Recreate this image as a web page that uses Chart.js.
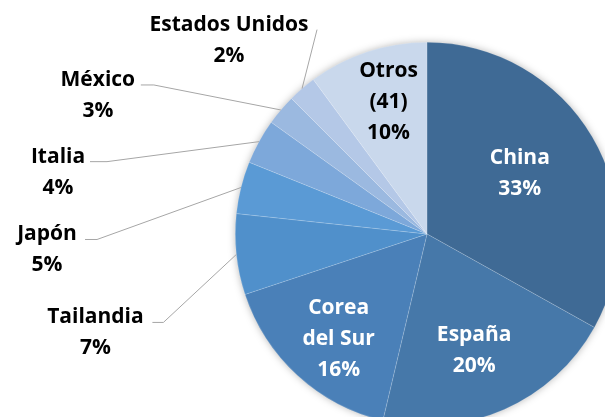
<!DOCTYPE html>
<html lang="es">
<head>
  <meta charset="UTF-8" />
  <title>Pie países</title>
  <script src="https://cdn.jsdelivr.net/npm/chart.js"></script>
  <style>
    html, body { margin: 0; padding: 0; background: #fff; overflow: hidden; }
    #wrap { position: absolute; left: 0; top: 0; width: 660px; height: 440px; }
  </style>
</head>
<body>
  <div id="wrap"><canvas id="pie" width="660" height="440"></canvas></div>

  <script>
    // data (share of total, %)
    const countries = ["China", "España", "Corea del Sur", "Tailandia", "Japón", "Italia", "México", "Estados Unidos", "Otros (41)"];
    const shares = [33.1, 20.6, 16.2, 6.8, 4.4, 3.8, 2.6, 2.4, 10.1];
    const pctLabels = ["33%", "20%", "16%", "7%", "5%", "4%", "3%", "2%", "10%"];
    const nameLines = [["China"], ["España"], ["Corea", "del Sur"], ["Tailandia"], ["Japón"], ["Italia"], ["México"], ["Estados Unidos"], ["Otros", "(41)"]];
    const sliceColors = ["#3F6A95", "#4678A9", "#4A80B8", "#5090CB", "#5A9AD5", "#7DA8DA", "#9BB9E0", "#B4C8E7", "#C9D8EC"];

    const FONT = "bold 21px 'Open Sans'";
    const LINE_H = 31;

    // label placement: inside -> polar (f of radius, angle shift deg); outside -> elbow offset from slice edge
    const labelPlace = [
      { inside: true, f: 0.58, da: -3, color: "#fff" },
      { inside: true, f: 0.65, da: 1.5, color: "#fff" },
      { inside: true, f: 0.71, da: -2, color: "#fff" },
      { dx: -73, dy: 68, h: 11, tx: 68 },
      { dx: -144, dy: 52, h: 12, tx: 50 },
      { dx: -152, dy: 20, h: 17, tx: 49 },
      { dx: -127, dy: -25, h: 13, tx: 56 },
      { dx: 15, dy: -59, h: 0, tx: 88 },
      { inside: true, f: 0.72, da: 2, color: "#000" }
    ];

    const glow = {
      id: "glow",
      beforeDatasetsDraw(chart) {
        const arc = chart.getDatasetMeta(0).data[0];
        if (!arc) return;
        const ctx = chart.ctx;
        ctx.save();
        ctx.shadowColor = "rgba(0,0,0,0.35)";
        ctx.shadowBlur = 9;
        ctx.fillStyle = "#fff";
        ctx.beginPath();
        ctx.arc(arc.x, arc.y, arc.outerRadius - 1, 0, Math.PI * 2);
        ctx.fill();
        ctx.restore();
      }
    };

    const sliceLabels = {
      id: "sliceLabels",
      afterDatasetsDraw(chart) {
        const ctx = chart.ctx;
        const arcs = chart.getDatasetMeta(0).data;
        ctx.save();
        ctx.font = FONT;
        ctx.textAlign = "center";
        ctx.textBaseline = "alphabetic";
        arcs.forEach((arc, i) => {
          const p = labelPlace[i];
          const lines = nameLines[i].concat([pctLabels[i]]);
          const mid = (arc.startAngle + arc.endAngle) / 2;
          if (p.inside) {
            const a = mid + p.da * Math.PI / 180;
            const r = arc.outerRadius * p.f;
            const cx = arc.x + Math.cos(a) * r;
            const cy = arc.y + Math.sin(a) * r;
            ctx.fillStyle = p.color;
            lines.forEach((t, k) => {
              ctx.fillText(t, cx, cy + (k - (lines.length - 1) / 2) * LINE_H + 7);
            });
          } else {
            const ex = arc.x + Math.cos(mid) * arc.outerRadius;
            const ey = arc.y + Math.sin(mid) * arc.outerRadius;
            const bx = ex + p.dx, by = ey + p.dy;
            ctx.strokeStyle = "#A6A6A6";
            ctx.lineWidth = 1;
            ctx.beginPath();
            ctx.moveTo(ex, ey);
            ctx.lineTo(bx, by);
            ctx.lineTo(bx - p.h, by);
            ctx.stroke();
            ctx.fillStyle = "#000";
            lines.forEach((t, k) => {
              ctx.fillText(t, bx - p.tx, by + 1 + k * LINE_H);
            });
          }
        });
        ctx.restore();
      }
    };

    new Chart(document.getElementById("pie").getContext("2d"), {
      type: "pie",
      data: {
        labels: countries,
        datasets: [{
          data: shares,
          backgroundColor: sliceColors,
          borderColor: "rgba(255,255,255,0.25)",
          borderWidth: 0.6,
          hoverOffset: 0
        }]
      },
      options: {
        responsive: false,
        animation: false,
        layout: { padding: { left: 235, top: 42, right: 41, bottom: 14 } },
        plugins: {
          legend: { display: false },
          tooltip: { enabled: false }
        }
      },
      plugins: [glow, sliceLabels]
    });
  </script>
</body>
</html>
